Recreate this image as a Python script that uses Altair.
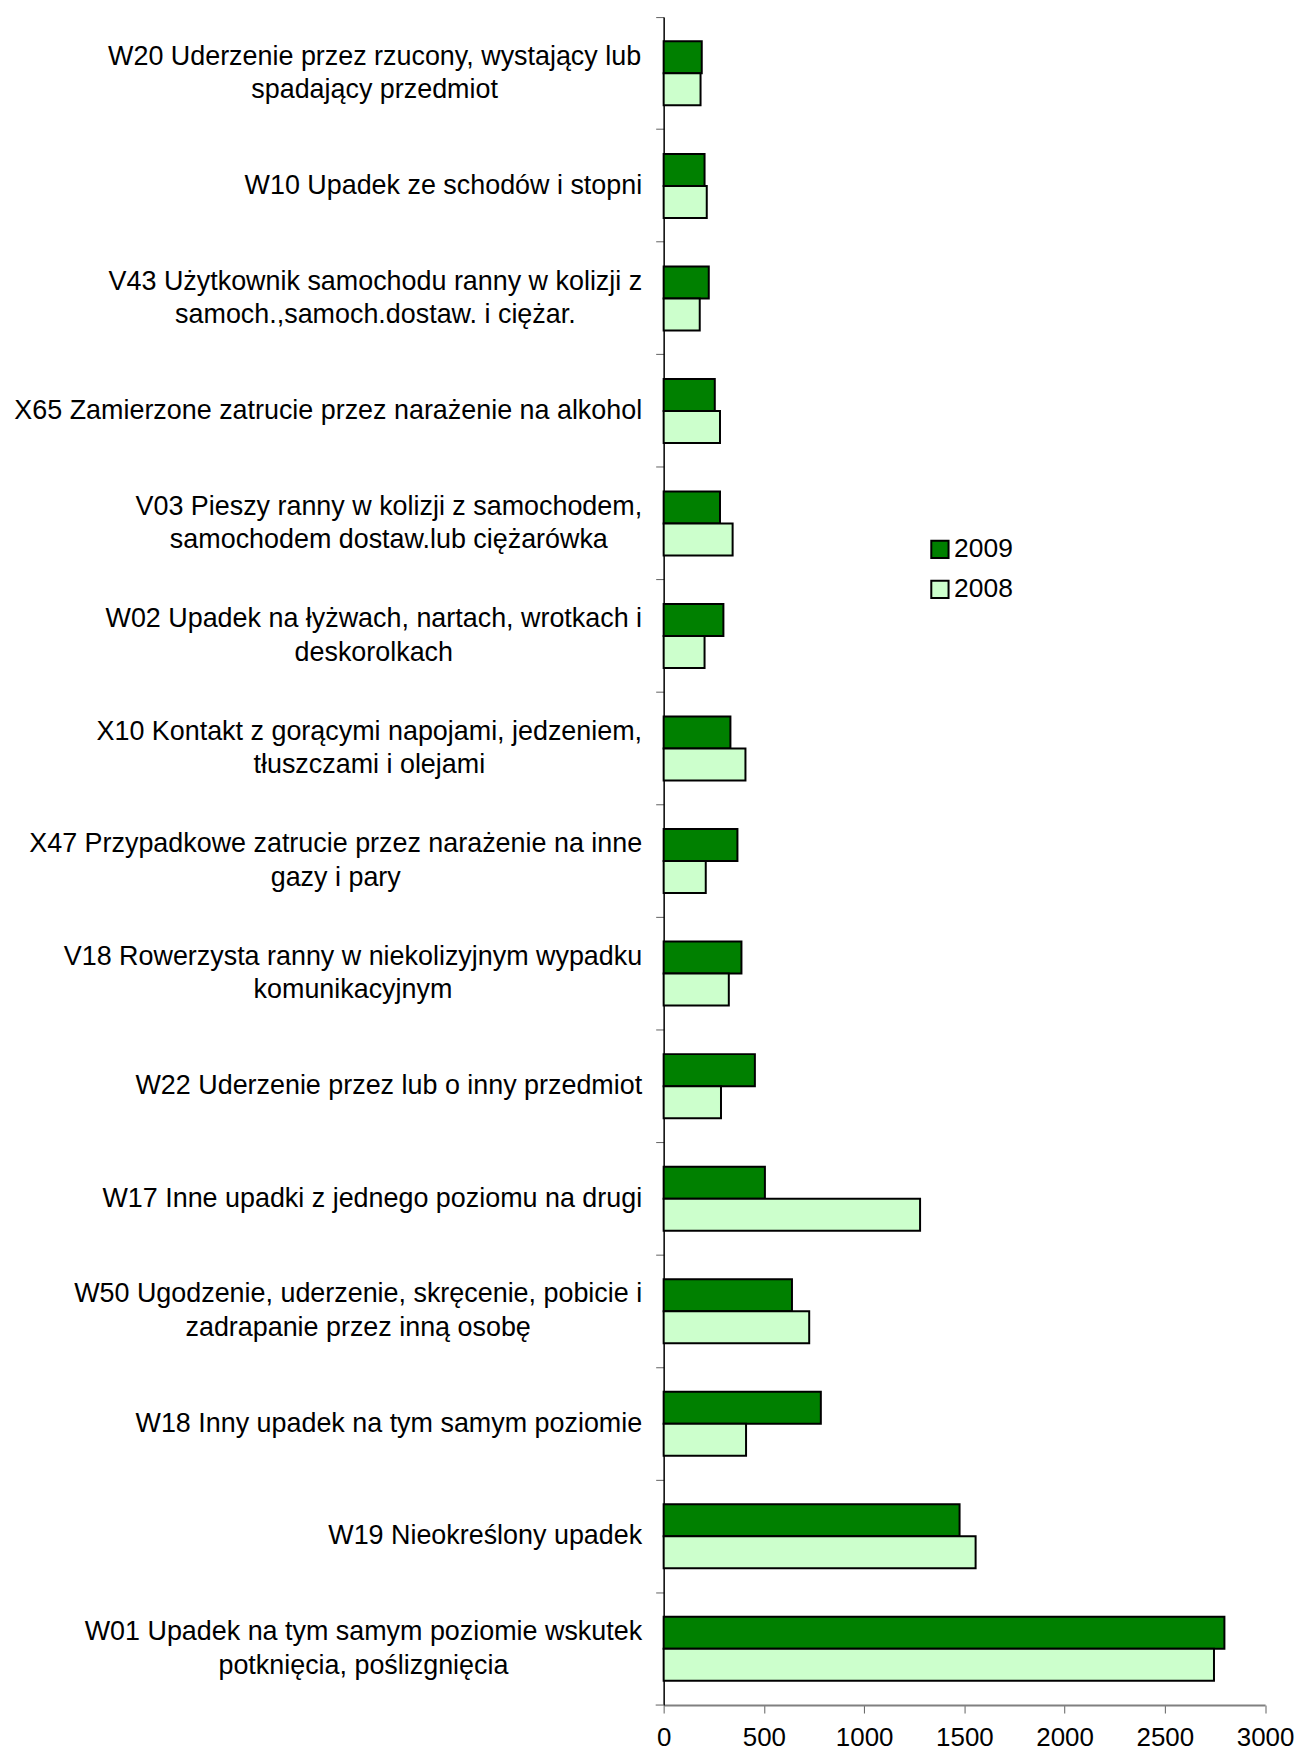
import altair as alt
import pandas as pd

# ---- data (top to bottom) ----
categories = [
    "W20 Uderzenie przez rzucony, wystający lub\nspadający przedmiot",
    "W10 Upadek ze schodów i stopni",
    "V43 Użytkownik samochodu ranny w kolizji z\nsamoch.,samoch.dostaw. i ciężar.",
    "X65 Zamierzone zatrucie przez narażenie na alkohol",
    "V03 Pieszy ranny w kolizji z samochodem,\nsamochodem dostaw.lub ciężarówka",
    "W02 Upadek na łyżwach, nartach, wrotkach i\ndeskorolkach",
    "X10 Kontakt z gorącymi napojami, jedzeniem,\ntłuszczami i olejami",
    "X47 Przypadkowe zatrucie przez narażenie na inne\ngazy i pary",
    "V18 Rowerzysta ranny w niekolizyjnym wypadku\nkomunikacyjnym",
    "W22 Uderzenie przez lub o inny przedmiot",
    "W17 Inne upadki z jednego poziomu na drugi",
    "W50 Ugodzenie, uderzenie, skręcenie, pobicie i\nzadrapanie przez inną osobę",
    "W18 Inny upadek na tym samym poziomie",
    "W19 Nieokreślony upadek",
    "W01 Upadek na tym samym poziomie wskutek\npotknięcia, poślizgnięcia",
]
values_2009 = [190, 204, 225, 255, 281, 298, 333, 368, 388, 455, 505, 640, 784, 1476, 2797]
values_2008 = [184, 215, 180, 281, 344, 204, 408, 210, 325, 286, 1279, 726, 411, 1556, 2745]
years = ["2009", "2008"]
x_ticks = [0, 500, 1000, 1500, 2000, 2500, 3000]

rows = []
for c, a, b in zip(categories, values_2009, values_2008):
    rows.append({"cat": c, "year": "2009", "value": a})
    rows.append({"cat": c, "year": "2008", "value": b})
df = pd.DataFrame(rows)

# ---- label layout helpers (Arial / Liberation Sans advance widths) ----
ARIAL = {
    " ": 278, ",": 278, ".": 278,
    "W": 944, "V": 667, "X": 667, "U": 722, "Z": 611, "P": 667, "K": 667,
    "R": 722, "I": 278, "N": 722,
    "a": 556, "b": 556, "c": 500, "d": 556, "e": 556, "f": 278, "g": 556,
    "h": 556, "i": 222, "j": 222, "k": 500, "l": 222, "m": 833, "n": 556,
    "o": 556, "p": 556, "r": 333, "s": 500, "t": 278, "u": 556, "w": 722,
    "y": 500, "z": 500,
    "ą": 556, "ę": 556, "ł": 222, "ó": 556, "ś": 500, "ż": 500, "ź": 500,
    "ć": 500, "ń": 556,
}


def text_width(s, size):
    return sum(ARIAL.get(ch, 556) for ch in s) / 1000.0 * size


LABEL_SIZE = 27
LINE_H = 33.7
GAP = 14
W, H = 603.6, 1694

pad_parts = []
for c in categories:
    half = max(text_width(line, LABEL_SIZE) for line in c.split("\n")) / 2.0
    pad_parts.append(f"substring(datum.value,0,3)==='{c[:3]}' ? {GAP + half:.1f} : ")
pad_expr = "".join(pad_parts) + "0"
off_expr = f"indexof(datum.value, '\\n') >= 0 ? {-LINE_H / 2:.2f} : 0"

FONT = "Liberation Sans"

bars = alt.Chart(df).mark_bar(stroke="black", strokeWidth=2).encode(
    x=alt.X(
        "value:Q",
        scale=alt.Scale(domain=[0, 3000], nice=False),
        axis=alt.Axis(
            values=x_ticks, title=None, labelFontSize=26, labelFont=FONT,
            labelColor="black", tickSize=8, tickColor="#606060",
            domainColor="#808080", domainWidth=2, labelPadding=12,
            grid=False, labelFlush=False, format="d",
        ),
    ),
    y=alt.Y(
        "cat:N",
        sort=categories,
        scale=alt.Scale(paddingInner=0, paddingOuter=0),
        axis=alt.Axis(
            title=None, bandPosition=0,
            labelOffset=alt.ExprRef(expr=off_expr),
            labelAlign="center", labelBaseline="middle",
            labelPadding=alt.ExprRef(expr=pad_expr),
            labelExpr="split(datum.label, '\\n')",
            labelFontSize=LABEL_SIZE, labelFont=FONT, labelColor="black",
            labelLimit=900, labelLineHeight=LINE_H, labelOverlap=False,
            tickSize=8, tickColor="#606060", domainColor="black",
            domainWidth=1.5, grid=False,
        ),
    ),
    yOffset=alt.YOffset(
        "year:N", sort=years,
        scale=alt.Scale(paddingInner=0, paddingOuter=0.758),
    ),
    color=alt.Color(
        "year:N",
        sort=years,
        scale=alt.Scale(domain=years, range=["#008000", "#CCFFCC"]),
        legend=alt.Legend(
            title=None, orient="none", legendX=264, legendY=521,
            symbolType="square", symbolSize=300, symbolStrokeColor="black",
            symbolStrokeWidth=2, symbolOpacity=1, labelFontSize=26.5,
            labelFont=FONT, labelColor="black", rowPadding=13, labelOffset=1,
        ),
    ),
)

bottom_tick = alt.Chart(pd.DataFrame({"k": [0]})).mark_rule(
    color="#606060", strokeWidth=1
).encode(x=alt.value(-8), x2=alt.value(0), y=alt.value(H))

chart = (
    alt.layer(bars, bottom_tick)
    .properties(width=W, height=H, padding={"left": 5, "top": 5, "right": 0, "bottom": 0})
    .configure_view(stroke=None)
)

chart.save("out.html", embed_options={"renderer": "svg", "actions": False})
